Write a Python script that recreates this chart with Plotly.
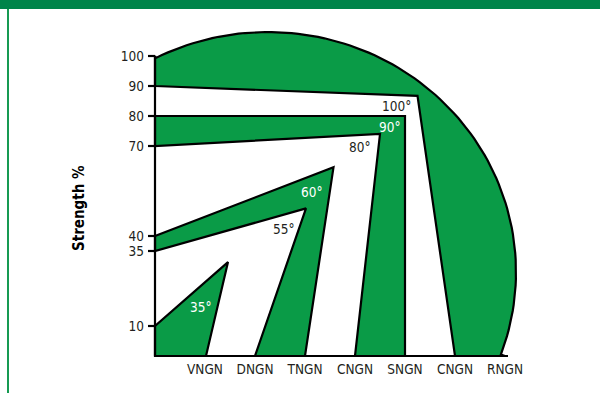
import numpy as np
import plotly.graph_objects as go

# categories along the bottom and strength ticks on the left
quench_names = ["VNGN", "DNGN", "TNGN", "CNGN", "SNGN", "CNGN", "RNGN"]
quench_pos = [1, 2, 3, 4, 5, 6, 7]
strength_ticks = [10, 35, 40, 70, 80, 90, 100]

# band outlines (x in category steps, y in strength %)
band35_x = [0, 0, 1.46, 1.02]
band35_y = [0, 10, 31.3, 0]
band60_x = [0, 3.57, 3.0, 2.0, 3.02, 0]
band60_y = [40, 62.9, 0, 0, 49.2, 35]
band90_x = [0, 5.0, 5.0, 4.0, 4.5, 0]
band90_y = [80, 80, 0, 0, 74, 70]
band100_x = [0, 5.25, 6.0, 7.0]
band100_y = [90, 86.7, 0, 0]
# the outer edge of the 100 band is an elliptic arc from RNGN back up to 100 %
arc_center = (2.26, 28)
arc_radius = (4.96, 80)

angle_labels = ["35°", "55°", "60°", "80°", "90°", "100°"]
angle_x = [0.92, 2.58, 3.14, 4.1, 4.7, 4.82]
angle_y = [16.3, 42.3, 54.7, 69.7, 76.3, 83.3]
angle_on_green = [True, False, True, False, True, False]

GREEN = "#0a9b47"
DARK_GREEN = "#00844a"
INK = "#231f20"
FONT = "Liberation Sans Narrow, DejaVu Sans Condensed, Arial Narrow, sans-serif"

# plot area in pixels (600x393 page)
L, R, T, B = 145, 545, 20, 359


def px_x(p):
    return (p - L) / (R - L)


def px_y(p):
    return (B - p) / (B - T)


# arc points
cx, cy = arc_center
rx, ry = arc_radius
t_end = np.arctan2((0 - cy) / ry, (band100_x[-1] - cx) / rx)
t_start = np.arctan2((100 - cy) / ry, (0 - cx) / rx)
t = np.linspace(t_end, t_start, 90)
arc_x = list(cx + rx * np.cos(t))
arc_y = list(cy + ry * np.sin(t))

fig = go.Figure()


def add_band(xs, ys):
    fig.add_trace(go.Scatter(
        x=xs + [xs[0]], y=ys + [ys[0]],
        mode="lines", fill="toself", fillcolor=GREEN,
        line=dict(color="black", width=2.2, shape="linear"),
        hoverinfo="skip", showlegend=False
    ))


add_band(band35_x, band35_y)
add_band(band60_x, band60_y)
add_band(band90_x, band90_y)
add_band(band100_x + arc_x + [0], band100_y + arc_y + [100])

# axis lines
fig.add_trace(go.Scatter(
    x=[0, 0, 7.06], y=[100, 0, 0], mode="lines",
    line=dict(color="black", width=2.2), hoverinfo="skip", showlegend=False
))
# tick marks
tx, ty = [], []
for v in strength_ticks:
    tx += [-0.14, 0, None]
    ty += [v, v, None]
fig.add_trace(go.Scatter(
    x=tx, y=ty, mode="lines",
    line=dict(color="black", width=2.2), hoverinfo="skip", showlegend=False
))

for lab, x, y, g in zip(angle_labels, angle_x, angle_y, angle_on_green):
    fig.add_annotation(x=x, y=y, text=lab, showarrow=False,
                       font=dict(family=FONT, size=13.5, color="white" if g else INK))

fig.add_annotation(xref="paper", yref="paper", x=px_x(79), y=px_y(208),
                   xanchor="center", yanchor="middle",
                   text="<b>Strength %</b>", textangle=-90, showarrow=False,
                   font=dict(family=FONT, size=15, color="black"))

# page frame: header band and left rule
fig.add_shape(type="rect", xref="paper", yref="paper",
              x0=px_x(-2), x1=px_x(602), y0=px_y(9), y1=px_y(-2),
              fillcolor=DARK_GREEN, line_width=0, layer="above")
fig.add_shape(type="line", xref="paper", yref="paper",
              x0=px_x(8), x1=px_x(8), y0=px_y(9), y1=px_y(395),
              line=dict(color="#169a52", width=2), layer="above")

fig.update_xaxes(range=[-0.2, 7.8], tickvals=quench_pos, ticktext=quench_names,
                 showgrid=False, zeroline=False, showline=False, ticks="",
                 tickfont=dict(family=FONT, size=13.5, color=INK), fixedrange=True)
fig.update_yaxes(range=[-1, 112], tickvals=strength_ticks,
                 showgrid=False, zeroline=False, showline=False, ticks="",
                 tickfont=dict(family=FONT, size=13.5, color=INK), fixedrange=True)
fig.update_layout(
    width=600, height=393,
    margin=dict(l=L, r=600 - R, t=T, b=393 - B, pad=0),
    plot_bgcolor="white", paper_bgcolor="white",
    showlegend=False
)

fig.write_html("out.html", config={"displayModeBar": False},
               post_script="document.body.style.margin='0';")
